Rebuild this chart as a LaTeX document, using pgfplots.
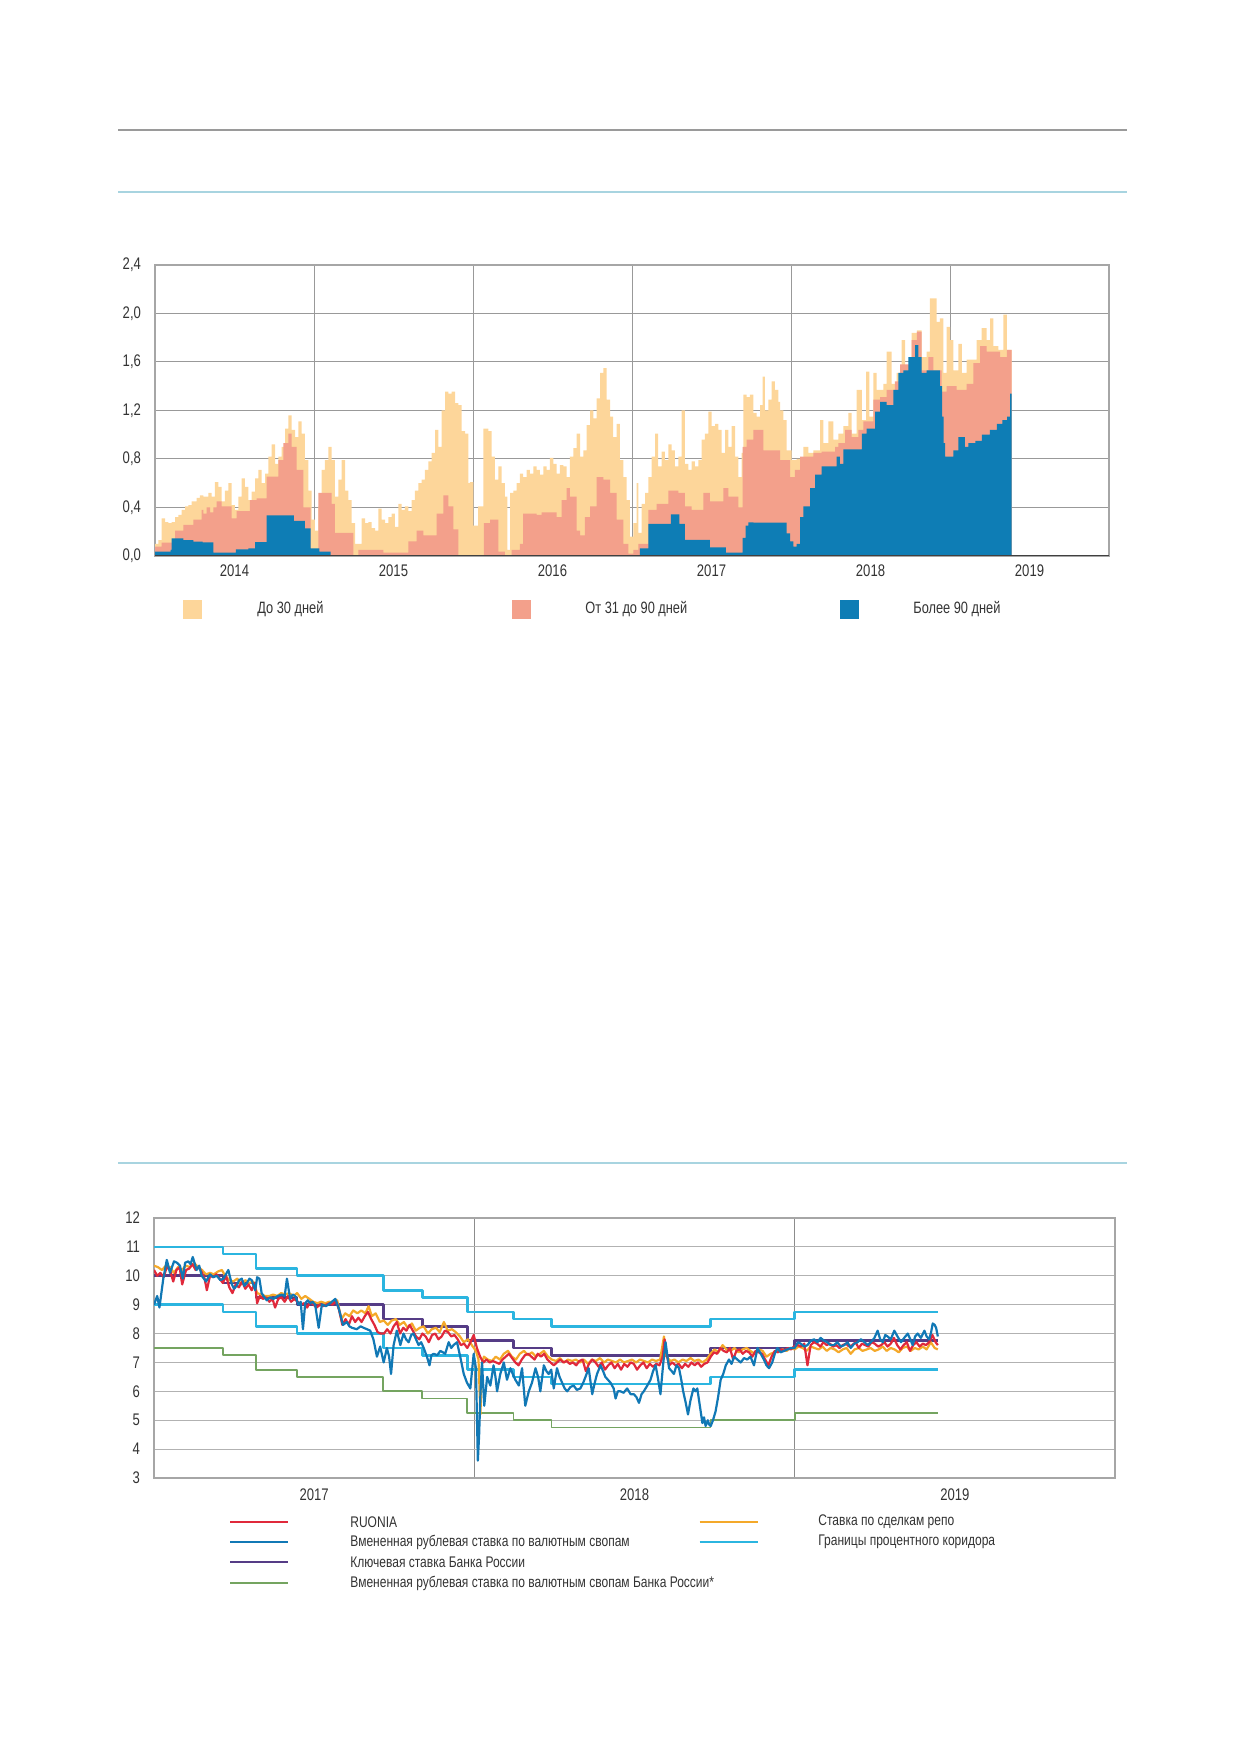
\documentclass[border=0pt]{standalone}
\usepackage{fontspec}
\setmainfont{Liberation Sans}[FakeStretch=0.78]
\usepackage{pgfplots}
\pgfplotsset{compat=1.18}
\definecolor{cLight}{HTML}{FDD69A}
\definecolor{cSalmon}{HTML}{F3A08B}
\definecolor{cBlue}{HTML}{0E7DB5}
\definecolor{cRed}{HTML}{E0293B}
\definecolor{cSwap}{HTML}{1178B5}
\definecolor{cPurple}{HTML}{553C86}
\definecolor{cGreen}{HTML}{74A460}
\definecolor{cOrange}{HTML}{F4A92A}
\definecolor{cCorr}{HTML}{2BB5E0}
\definecolor{cRule}{HTML}{9A9A9A}
\definecolor{cRuleB}{HTML}{A8D4E0}
\definecolor{cTxt}{HTML}{333333}
\begin{document}
\begin{tikzpicture}
\path[use as bounding box] (0,0) rectangle (619.5pt,876pt);
\draw[cRule, line width=1pt] (59pt,811pt) -- (563.5pt,811pt);
\draw[cRuleB, line width=0.9pt] (59pt,780pt) -- (563.5pt,780pt);
\draw[cRuleB, line width=0.9pt] (59pt,294.5pt) -- (563.5pt,294.5pt);

%% ---------------- TOP CHART ----------------
\begin{axis}[
 at={(77.5pt,743.5pt)}, anchor=north west,
 scale only axis, width=477pt, height=145.5pt,
 xmin=0, xmax=6, ymin=0, ymax=2.4,
 xtick={0.5,1.5,2.5,3.5,4.5,5.5},
 xticklabels={2014,2015,2016,2017,2018,2019},
 ytick={0,0.4,0.8,1.2,1.6,2.0,2.4},
 minor xtick={1,2,3,4,5},
 xminorgrids, ymajorgrids,
 major tick length=0, minor tick length=0,
 grid style={black!40, line width=0.5pt},
 minor grid style={black!40, line width=0.5pt},
 axis line style={black!35, line width=0.6pt},
 tick label style={font=\fontsize{8.4}{9}\selectfont, text=cTxt},
 /pgf/number format/assume math mode=true,
 yticklabel style={xshift=-3.5pt, /pgf/number format/.cd, fixed, fixed zerofill, precision=1, use comma},
 xticklabel style={yshift=-1pt},
]
\addplot[const plot, fill=cLight, draw=none] table {
0.000 0.10
0.021 0.13
0.042 0.31
0.063 0.28
0.084 0.27
0.105 0.28
0.126 0.32
0.147 0.34
0.168 0.38
0.189 0.41
0.210 0.42
0.231 0.45
0.262 0.48
0.283 0.50
0.304 0.49
0.335 0.52
0.356 0.49
0.377 0.61
0.398 0.57
0.419 0.45
0.440 0.54
0.461 0.60
0.482 0.42
0.503 0.38
0.524 0.49
0.545 0.64
0.566 0.57
0.587 0.46
0.608 0.53
0.629 0.64
0.650 0.71
0.671 0.60
0.692 0.68
0.713 0.82
0.734 0.92
0.755 0.76
0.776 0.82
0.797 0.90
0.818 1.05
0.839 1.16
0.860 1.04
0.881 0.98
0.901 1.11
0.922 1.01
0.943 0.79
0.964 0.54
0.985 0.30
1.006 0.21
1.027 0.41
1.048 0.71
1.069 0.79
1.090 0.90
1.111 0.79
1.132 0.49
1.153 0.63
1.174 0.79
1.195 0.54
1.216 0.46
1.237 0.27
1.258 0.10
1.279 0.10
1.300 0.31
1.321 0.27
1.342 0.28
1.363 0.23
1.384 0.21
1.405 0.39
1.426 0.30
1.447 0.27
1.468 0.32
1.488 0.35
1.509 0.24
1.530 0.43
1.551 0.38
1.572 0.41
1.593 0.37
1.614 0.46
1.635 0.54
1.656 0.60
1.677 0.63
1.698 0.71
1.719 0.78
1.740 0.85
1.761 1.04
1.782 0.90
1.803 1.20
1.824 1.355
1.845 1.34
1.866 1.355
1.887 1.26
1.908 1.245
1.929 1.03
1.950 1.01
1.971 0.60
1.981 0.61
2.002 0.25
2.033 0.41
2.065 1.05
2.096 1.03
2.117 0.82
2.138 0.63
2.159 0.74
2.180 0.60
2.201 0.49
2.216 0.05
2.233 0.52
2.254 0.54
2.275 0.60
2.295 0.68
2.316 0.65
2.337 0.71
2.358 0.68
2.379 0.74
2.400 0.71
2.421 0.67
2.442 0.74
2.463 0.71
2.484 0.81
2.505 0.76
2.526 0.68
2.547 0.75
2.568 0.74
2.589 0.65
2.610 0.82
2.631 0.89
2.652 1.01
2.673 0.82
2.694 0.87
2.715 1.08
2.736 1.20
2.757 1.135
2.778 1.30
2.799 1.51
2.820 1.55
2.841 1.29
2.862 1.15
2.882 0.98
2.903 1.09
2.924 0.79
2.945 0.65
2.966 0.46
2.987 0.16
3.008 0.27
3.029 0.60
3.040 0.19
3.061 0.43
3.082 0.52
3.103 0.65
3.124 0.82
3.145 1.01
3.165 0.74
3.186 0.86
3.207 0.79
3.228 0.92
3.249 0.87
3.270 0.74
3.291 0.82
3.312 1.20
3.333 0.76
3.354 0.71
3.375 0.78
3.396 0.74
3.417 0.79
3.438 0.96
3.459 1.01
3.480 1.19
3.501 1.07
3.522 1.09
3.543 1.04
3.564 0.85
3.585 1.04
3.606 0.90
3.627 1.07
3.648 0.82
3.669 0.65
3.690 0.85
3.700 1.33
3.721 1.31
3.742 1.33
3.763 1.18
3.784 1.15
3.805 1.245
3.822 1.48
3.836 1.20
3.857 1.29
3.878 1.44
3.899 1.37
3.920 1.27
3.931 1.20
3.952 1.12
3.973 0.87
4.004 0.79
4.036 0.80
4.078 0.90
4.109 0.85
4.141 0.87
4.183 1.12
4.204 0.93
4.235 1.11
4.266 0.96
4.298 1.01
4.329 1.07
4.361 1.18
4.382 1.01
4.413 1.37
4.445 1.12
4.472 1.52
4.493 1.15
4.518 1.51
4.539 1.37
4.581 1.42
4.602 1.685
4.633 1.42
4.665 1.51
4.696 1.78
4.717 1.56
4.759 1.84
4.791 1.86
4.822 1.64
4.853 1.685
4.874 2.125
4.916 1.93
4.937 1.96
4.958 1.51
4.979 1.89
5.000 1.78
5.021 1.53
5.053 1.75
5.074 1.51
5.105 1.62
5.137 1.62
5.168 1.78
5.199 1.88
5.231 1.78
5.252 1.96
5.273 1.73
5.304 1.70
5.336 1.99
5.357 1.70
5.388 1.70
} \closedcycle;
\addplot[const plot, fill=cSalmon, draw=none] table {
0.000 0.077
0.042 0.11
0.126 0.21
0.178 0.256
0.241 0.30
0.294 0.38
0.304 0.35
0.325 0.40
0.346 0.36
0.367 0.40
0.388 0.45
0.419 0.41
0.482 0.31
0.514 0.37
0.597 0.46
0.639 0.476
0.702 0.654
0.776 0.79
0.807 0.93
0.839 1.01
0.860 0.90
0.891 0.71
0.933 0.40
0.979 0.0
1.027 0.52
1.111 0.43
1.132 0.19
1.247 0.0
1.279 0.05
1.436 0.027
1.593 0.12
1.646 0.21
1.688 0.17
1.771 0.35
1.813 0.50
1.845 0.41
1.876 0.22
1.908 0.0
2.069 0.27
2.107 0.30
2.159 0.036
2.201 0.0
2.243 0.05
2.295 0.10
2.316 0.35
2.400 0.34
2.432 0.36
2.526 0.32
2.558 0.46
2.589 0.56
2.610 0.49
2.652 0.21
2.673 0.17
2.704 0.32
2.736 0.41
2.778 0.65
2.820 0.63
2.862 0.52
2.903 0.30
2.945 0.10
2.977 0.02
3.008 0.05
3.040 0.10
3.103 0.38
3.155 0.43
3.228 0.54
3.291 0.52
3.333 0.41
3.375 0.38
3.449 0.52
3.490 0.45
3.574 0.56
3.606 0.49
3.669 0.40
3.696 0.90
3.721 0.96
3.763 1.04
3.826 0.87
3.931 0.79
3.994 0.65
4.025 0.71
4.057 0.82
4.141 0.85
4.193 0.86
4.277 0.90
4.298 0.93
4.340 1.04
4.382 0.98
4.424 1.04
4.455 1.11
4.518 1.29
4.560 1.31
4.602 1.37
4.654 1.44
4.686 1.58
4.759 1.78
4.791 1.85
4.822 1.53
4.864 1.64
4.895 1.53
4.948 1.355
4.979 1.40
5.042 1.37
5.105 1.42
5.147 1.59
5.189 1.73
5.231 1.685
5.315 1.64
5.357 1.70
5.388 1.70
} \closedcycle;
\addplot[const plot, fill=cBlue, draw=none] table {
0.000 0.036
0.0985 0.05
0.105 0.146
0.178 0.13
0.241 0.118
0.300 0.113
0.367 0.027
0.509 0.055
0.587 0.063
0.629 0.115
0.702 0.335
0.874 0.289
0.943 0.228
0.979 0.063
1.034 0.036
1.105 0.0
3.050 0.063
3.103 0.264
3.245 0.344
3.298 0.264
3.333 0.132
3.490 0.071
3.591 0.027
3.696 0.15
3.715 0.25
3.732 0.278
3.763 0.275
3.973 0.187
3.994 0.12
4.015 0.077
4.036 0.10
4.057 0.32
4.078 0.41
4.120 0.56
4.151 0.67
4.193 0.74
4.287 0.82
4.308 0.76
4.329 0.88
4.445 1.01
4.476 1.05
4.529 1.19
4.560 1.27
4.602 1.245
4.644 1.37
4.675 1.51
4.707 1.53
4.738 1.64
4.780 1.74
4.801 1.64
4.822 1.51
4.853 1.53
4.937 1.40
4.950 1.15
4.960 0.93
4.969 0.82
5.021 0.87
5.053 0.98
5.094 0.90
5.115 0.93
5.160 0.95
5.200 1.00
5.250 1.04
5.294 1.09
5.330 1.12
5.360 1.15
5.378 1.34
5.388 1.34
} \closedcycle;
\draw[black!75, line width=0.8pt] (axis cs:0,0) -- (axis cs:6,0);
\end{axis}

% top legend
\begin{scope}[font=\fontsize{8.2}{9}\selectfont, text=cTxt]
\fill[cLight] (91.5pt,566.5pt) rectangle (101pt,576pt);
\node[anchor=west, inner sep=0pt] at (128.5pt,571.25pt) {До 30 дней};
\fill[cSalmon] (256pt,566.5pt) rectangle (265.5pt,576pt);
\node[anchor=west, inner sep=0pt] at (292.5pt,571.25pt) {От 31 до 90 дней};
\fill[cBlue] (420pt,566.5pt) rectangle (429.5pt,576pt);
\node[anchor=west, inner sep=0pt] at (456.5pt,571.25pt) {Более 90 дней};
\end{scope}

%% ---------------- BOTTOM CHART ----------------
\begin{axis}[
 at={(77pt,267pt)}, anchor=north west,
 scale only axis, width=480.5pt, height=130pt,
 xmin=2017, xmax=2020, ymin=3, ymax=12,
 xtick={2017.5,2018.5,2019.5},
 xticklabels={2017,2018,2019},
 ytick={3,4,5,6,7,8,9,10,11,12},
 minor xtick={2018,2019},
 xminorgrids, ymajorgrids,
 major tick length=0, minor tick length=0,
 grid style={black!30, line width=0.5pt},
 minor grid style={black!45, line width=0.5pt},
 axis line style={black!35, line width=0.6pt},
 tick label style={font=\fontsize{8.4}{9}\selectfont, text=cTxt},
 /pgf/number format/assume math mode=true,
 yticklabel style={xshift=-3.5pt},
 xticklabel style={yshift=-2pt},
 every axis plot/.append style={line join=round},
]
% corridor upper
\addplot[const plot, cCorr, line width=1.3pt] coordinates {
(2017.0,11.0) (2017.216,10.75) (2017.319,10.25) (2017.447,10.0) (2017.716,9.5) (2017.8375,9.25) (2017.978,8.75) (2018.122,8.5) (2018.241,8.25) (2018.7375,8.5) (2019.0,8.75) (2019.447,8.75)};
% corridor lower
\addplot[const plot, cCorr, line width=1.3pt] coordinates {
(2017.0,9.0) (2017.216,8.75) (2017.319,8.25) (2017.447,8.0) (2017.716,7.5) (2017.8375,7.25) (2017.978,6.75) (2018.122,6.5) (2018.241,6.25) (2018.7375,6.5) (2019.0,6.75) (2019.447,6.75)};
% green
\addplot[const plot, cGreen, line width=0.9pt] coordinates {
(2017.0,7.5) (2017.216,7.25) (2017.319,6.75) (2017.447,6.5) (2017.716,6.0) (2017.8375,5.75) (2017.978,5.25) (2018.122,5.0) (2018.241,4.75) (2018.7375,5.0) (2019.0,5.25) (2019.447,5.25)};
% key rate
\addplot[const plot, cPurple, line width=1.3pt] coordinates {
(2017.0,10.0) (2017.216,9.75) (2017.319,9.25) (2017.447,9.0) (2017.716,8.5) (2017.8375,8.25) (2017.978,7.75) (2018.122,7.5) (2018.241,7.25) (2018.7375,7.5) (2019.0,7.75) (2019.447,7.75)};
% repo
\addplot[cOrange, line width=1.1pt] table {
2017.000 10.35
2017.012 10.30
2017.025 10.20
2017.037 10.35
2017.050 10.30
2017.062 10.10
2017.075 10.30
2017.087 10.20
2017.100 10.35
2017.112 10.30
2017.125 10.45
2017.137 10.30
2017.150 10.20
2017.162 10.05
2017.175 10.10
2017.187 10.05
2017.200 10.15
2017.212 10.20
2017.222 10.00
2017.235 9.85
2017.247 9.80
2017.260 9.90
2017.272 9.70
2017.285 9.85
2017.297 9.75
2017.310 9.80
2017.322 9.40
2017.335 9.35
2017.347 9.30
2017.360 9.30
2017.372 9.35
2017.385 9.30
2017.397 9.40
2017.410 9.35
2017.422 9.40
2017.435 9.30
2017.447 9.40
2017.460 9.20
2017.472 9.30
2017.485 9.20
2017.497 9.10
2017.510 9.05
2017.522 9.10
2017.535 9.05
2017.547 9.10
2017.560 9.05
2017.572 9.15
2017.585 8.50
2017.597 8.70
2017.610 8.60
2017.622 8.80
2017.635 8.70
2017.647 8.80
2017.660 8.70
2017.670 8.95
2017.680 8.60
2017.692 8.70
2017.705 8.40
2017.717 8.45
2017.730 8.30
2017.742 8.45
2017.755 8.50
2017.767 8.30
2017.780 8.40
2017.792 8.20
2017.805 8.35
2017.817 8.10
2017.830 8.20
2017.842 8.25
2017.855 8.00
2017.867 8.15
2017.880 8.20
2017.892 8.05
2017.905 8.40
2017.917 8.10
2017.930 8.15
2017.942 8.05
2017.955 7.90
2017.967 7.70
2017.980 7.80
2017.992 7.60
2018.005 7.40
2018.013 7.10
2018.019 5.20
2018.024 7.00
2018.030 7.20
2018.042 7.10
2018.055 7.05
2018.067 7.20
2018.080 7.10
2018.092 7.30
2018.105 7.40
2018.117 7.20
2018.130 7.10
2018.142 7.30
2018.155 7.40
2018.167 7.25
2018.180 7.35
2018.192 7.20
2018.205 7.30
2018.217 7.40
2018.230 7.20
2018.242 7.10
2018.255 7.05
2018.267 7.15
2018.280 7.00
2018.292 7.10
2018.305 7.05
2018.317 7.10
2018.330 7.00
2018.342 7.10
2018.355 6.95
2018.367 7.10
2018.380 7.05
2018.392 7.15
2018.405 7.00
2018.417 7.10
2018.430 7.05
2018.442 7.00
2018.455 7.10
2018.467 7.00
2018.480 7.05
2018.492 7.10
2018.505 7.00
2018.517 7.10
2018.530 7.05
2018.542 7.00
2018.555 7.10
2018.567 7.05
2018.580 7.10
2018.592 7.90
2018.600 7.20
2018.612 7.05
2018.625 7.10
2018.637 7.00
2018.650 7.10
2018.662 7.05
2018.675 7.15
2018.687 7.05
2018.700 7.10
2018.712 7.00
2018.725 7.10
2018.737 7.30
2018.750 7.45
2018.762 7.35
2018.775 7.60
2018.787 7.45
2018.800 7.40
2018.812 7.50
2018.825 7.35
2018.837 7.45
2018.850 7.50
2018.862 7.40
2018.875 7.30
2018.887 7.45
2018.900 7.40
2018.912 7.20
2018.925 7.30
2018.937 7.35
2018.950 7.40
2018.962 7.45
2018.975 7.40
2018.987 7.50
2019.000 7.45
2019.012 7.55
2019.025 7.50
2019.037 7.40
2019.050 7.55
2019.062 7.50
2019.075 7.45
2019.087 7.55
2019.100 7.40
2019.112 7.50
2019.125 7.45
2019.137 7.35
2019.150 7.45
2019.162 7.50
2019.175 7.30
2019.187 7.45
2019.200 7.50
2019.212 7.40
2019.225 7.45
2019.237 7.50
2019.250 7.40
2019.262 7.45
2019.275 7.55
2019.287 7.40
2019.300 7.50
2019.312 7.45
2019.325 7.35
2019.337 7.50
2019.350 7.55
2019.362 7.40
2019.375 7.50
2019.387 7.45
2019.400 7.55
2019.412 7.45
2019.425 7.70
2019.437 7.50
2019.447 7.45
};
% RUONIA
\addplot[cRed, line width=1.1pt] table {
2017.000 10.20
2017.010 10.00
2017.020 10.10
2017.030 9.95
2017.040 10.30
2017.050 10.20
2017.060 9.80
2017.070 10.20
2017.080 10.30
2017.088 9.70
2017.100 10.20
2017.110 10.25
2017.120 10.40
2017.130 10.20
2017.140 10.30
2017.150 10.10
2017.158 9.90
2017.165 9.50
2017.175 10.00
2017.185 9.95
2017.195 10.05
2017.205 9.90
2017.215 9.75
2017.225 10.00
2017.235 9.60
2017.245 9.40
2017.255 9.70
2017.265 9.60
2017.275 9.80
2017.285 9.55
2017.295 9.70
2017.305 9.50
2017.315 9.75
2017.322 9.05
2017.330 9.30
2017.340 9.20
2017.350 9.25
2017.360 9.10
2017.370 9.20
2017.378 8.90
2017.388 9.20
2017.398 9.25
2017.408 9.10
2017.418 9.30
2017.428 9.10
2017.438 9.20
2017.448 9.10
2017.458 9.00
2017.468 9.05
2017.478 8.90
2017.488 9.10
2017.498 9.00
2017.508 8.90
2017.518 9.00
2017.528 8.95
2017.538 9.00
2017.548 9.05
2017.558 9.00
2017.568 9.15
2017.578 8.80
2017.588 8.30
2017.598 8.50
2017.608 8.30
2017.618 8.60
2017.628 8.40
2017.638 8.55
2017.648 8.40
2017.658 8.60
2017.668 8.75
2017.678 8.50
2017.688 8.30
2017.698 8.05
2017.708 8.00
2017.718 8.00
2017.728 8.15
2017.738 8.00
2017.748 8.25
2017.758 8.40
2017.768 8.00
2017.778 8.20
2017.788 8.10
2017.798 8.30
2017.808 8.10
2017.818 7.90
2017.828 7.80
2017.838 8.00
2017.848 7.90
2017.858 7.70
2017.868 7.95
2017.878 8.00
2017.888 7.80
2017.898 7.90
2017.908 8.10
2017.918 8.05
2017.928 7.90
2017.938 7.95
2017.948 7.80
2017.958 7.60
2017.968 7.65
2017.978 7.50
2017.988 7.70
2017.998 7.95
2018.008 7.50
2018.018 7.20
2018.028 7.00
2018.038 7.10
2018.048 7.00
2018.058 7.05
2018.068 7.00
2018.078 6.95
2018.088 7.10
2018.098 7.20
2018.108 7.30
2018.118 7.15
2018.128 7.00
2018.138 6.90
2018.148 7.10
2018.158 7.25
2018.168 7.30
2018.178 7.20
2018.188 7.10
2018.198 7.30
2018.208 7.20
2018.218 7.30
2018.228 7.10
2018.238 7.00
2018.248 6.90
2018.258 7.00
2018.268 7.10
2018.278 7.00
2018.288 7.05
2018.298 6.95
2018.308 7.00
2018.318 6.90
2018.328 7.05
2018.338 7.10
2018.348 6.70
2018.358 6.95
2018.368 7.10
2018.378 7.00
2018.388 6.85
2018.398 7.00
2018.408 6.75
2018.418 6.90
2018.428 7.00
2018.438 6.80
2018.448 6.95
2018.458 6.75
2018.468 6.95
2018.478 6.85
2018.488 7.00
2018.498 6.95
2018.508 6.75
2018.518 6.90
2018.528 7.00
2018.538 6.80
2018.548 6.95
2018.558 6.85
2018.568 6.95
2018.578 6.90
2018.588 7.20
2018.594 7.80
2018.600 7.30
2018.608 6.90
2018.618 7.00
2018.628 6.90
2018.638 6.95
2018.648 6.80
2018.658 6.95
2018.668 6.85
2018.678 7.00
2018.688 6.90
2018.698 7.00
2018.708 6.85
2018.718 6.95
2018.728 7.00
2018.738 7.20
2018.748 7.35
2018.758 7.30
2018.768 7.50
2018.778 7.40
2018.788 7.35
2018.798 7.50
2018.808 7.10
2018.818 7.40
2018.828 7.45
2018.838 7.30
2018.848 7.40
2018.858 7.35
2018.868 7.20
2018.878 7.40
2018.888 7.35
2018.898 7.30
2018.908 7.10
2018.918 6.90
2018.928 7.20
2018.938 7.40
2018.948 7.35
2018.958 7.45
2018.968 7.40
2018.978 7.50
2018.988 7.45
2018.998 7.55
2019.010 7.60
2019.020 7.55
2019.030 7.65
2019.040 6.90
2019.050 7.60
2019.060 7.70
2019.070 7.65
2019.080 7.55
2019.090 7.70
2019.100 7.60
2019.110 7.65
2019.120 7.55
2019.130 7.60
2019.140 7.50
2019.150 7.60
2019.160 7.65
2019.170 7.55
2019.180 7.60
2019.190 7.70
2019.200 7.50
2019.210 7.65
2019.220 7.60
2019.230 7.55
2019.240 7.70
2019.250 7.65
2019.260 7.55
2019.270 7.60
2019.280 7.70
2019.290 7.55
2019.300 7.65
2019.310 7.85
2019.320 7.60
2019.330 7.45
2019.340 7.60
2019.350 7.70
2019.360 7.40
2019.370 7.60
2019.380 7.70
2019.390 7.55
2019.400 7.65
2019.410 7.60
2019.420 7.70
2019.430 7.95
2019.440 7.70
2019.447 7.60
};
% swap implied rate
\addplot[cSwap, line width=1.1pt] table {
2017.000 9.00
2017.010 9.30
2017.017 8.90
2017.029 9.90
2017.040 10.55
2017.050 10.10
2017.0625 10.50
2017.072 10.45
2017.081 10.35
2017.090 9.90
2017.097 10.45
2017.107 10.50
2017.114 10.40
2017.121 10.65
2017.133 10.20
2017.141 10.35
2017.149 10.00
2017.1625 9.80
2017.175 10.05
2017.185 9.95
2017.196 10.00
2017.207 9.85
2017.217 9.90
2017.232 10.20
2017.243 9.70
2017.250 9.55
2017.258 9.65
2017.266 9.85
2017.274 9.90
2017.282 9.65
2017.290 9.75
2017.298 9.90
2017.305 9.85
2017.316 9.50
2017.322 9.95
2017.329 9.90
2017.336 9.40
2017.342 9.30
2017.352 9.15
2017.362 9.25
2017.373 9.20
2017.386 9.30
2017.399 9.35
2017.408 9.30
2017.415 9.90
2017.425 9.20
2017.433 9.35
2017.441 9.30
2017.451 9.00
2017.458 9.10
2017.465 8.15
2017.472 9.05
2017.480 9.15
2017.4875 9.05
2017.495 9.10
2017.503 9.00
2017.514 8.20
2017.524 9.00
2017.537 8.95
2017.550 9.05
2017.566 9.20
2017.576 8.90
2017.583 8.60
2017.590 8.30
2017.602 8.40
2017.610 8.25
2017.618 8.20
2017.633 8.15
2017.645 8.25
2017.654 8.20
2017.665 8.15
2017.675 8.10
2017.685 7.80
2017.696 7.20
2017.706 7.55
2017.717 7.00
2017.727 7.50
2017.734 7.20
2017.740 6.60
2017.748 7.60
2017.758 8.10
2017.769 7.60
2017.779 8.00
2017.787 7.80
2017.795 7.70
2017.803 7.95
2017.810 8.00
2017.818 7.80
2017.826 7.60
2017.834 7.70
2017.842 7.50
2017.852 7.20
2017.860 6.90
2017.866 7.25
2017.873 7.30
2017.884 7.25
2017.894 7.40
2017.902 7.35
2017.909 7.30
2017.920 7.70
2017.928 7.50
2017.935 7.60
2017.946 7.70
2017.956 7.20
2017.967 6.60
2017.977 6.30
2017.9875 6.10
2017.998 7.30
2018.005 6.80
2018.011 3.60
2018.015 4.50
2018.019 5.90
2018.024 7.00
2018.031 5.50
2018.040 6.50
2018.050 6.20
2018.060 6.90
2018.066 6.50
2018.071 6.00
2018.081 6.60
2018.092 7.00
2018.102 6.40
2018.1125 6.80
2018.120 6.60
2018.128 6.40
2018.139 6.20
2018.149 6.80
2018.159 5.50
2018.170 6.00
2018.180 6.30
2018.191 6.80
2018.199 6.50
2018.206 6.00
2018.217 6.90
2018.225 6.70
2018.232 6.60
2018.240 6.75
2018.248 6.10
2018.258 6.80
2018.266 6.50
2018.274 6.30
2018.282 6.10
2018.290 6.00
2018.300 6.15
2018.310 6.20
2018.320 6.05
2018.331 6.10
2018.340 6.30
2018.347 6.50
2018.357 6.80
2018.368 5.90
2018.376 6.30
2018.383 6.60
2018.394 6.90
2018.402 6.70
2018.409 6.50
2018.417 6.40
2018.425 6.30
2018.435 6.10
2018.441 5.75
2018.448 6.00
2018.456 6.00
2018.466 5.95
2018.477 6.10
2018.488 5.90
2018.498 5.90
2018.506 5.80
2018.514 5.60
2018.522 5.90
2018.529 6.00
2018.540 6.20
2018.550 6.40
2018.558 6.70
2018.566 6.90
2018.574 6.40
2018.581 5.90
2018.590 7.00
2018.597 7.70
2018.603 7.20
2018.608 6.80
2018.616 6.70
2018.623 6.60
2018.631 6.90
2018.639 6.80
2018.646 6.40
2018.652 6.00
2018.660 5.60
2018.667 5.20
2018.675 5.70
2018.684 6.10
2018.690 6.00
2018.696 6.10
2018.704 5.50
2018.712 4.90
2018.717 5.10
2018.722 4.80
2018.729 5.00
2018.733 4.85
2018.738 4.80
2018.745 5.00
2018.753 5.30
2018.761 5.80
2018.769 6.40
2018.777 6.60
2018.785 6.90
2018.795 7.10
2018.803 6.95
2018.811 7.20
2018.821 7.10
2018.8315 7.00
2018.842 7.15
2018.852 7.10
2018.862 7.20
2018.873 6.90
2018.884 7.50
2018.894 7.30
2018.904 7.10
2018.912 6.90
2018.920 6.80
2018.930 7.00
2018.938 7.30
2018.946 7.50
2018.956 7.35
2018.967 7.40
2018.977 7.45
2018.988 7.50
2019.000 7.50
2019.010 7.70
2019.019 7.65
2019.030 7.55
2019.040 7.60
2019.050 7.75
2019.061 7.80
2019.071 7.70
2019.081 7.85
2019.092 7.75
2019.102 7.70
2019.112 7.60
2019.123 7.60
2019.133 7.70
2019.144 7.55
2019.155 7.60
2019.165 7.70
2019.175 7.50
2019.186 7.65
2019.196 7.70
2019.207 7.80
2019.218 7.70
2019.228 7.60
2019.238 7.70
2019.249 7.85
2019.259 8.10
2019.267 7.80
2019.275 7.70
2019.283 7.95
2019.290 7.90
2019.300 7.80
2019.311 8.10
2019.321 7.90
2019.332 7.70
2019.342 7.85
2019.353 8.00
2019.361 7.80
2019.3685 7.60
2019.376 7.90
2019.384 8.00
2019.394 7.85
2019.405 8.10
2019.412 7.90
2019.420 7.80
2019.426 8.05
2019.431 8.35
2019.437 8.30
2019.4415 8.20
2019.447 7.90
};
\end{axis}

% bottom legend
\begin{scope}[font=\fontsize{7.7}{9}\selectfont, text=cTxt]
\draw[cRed, line width=1.1pt] (115pt,115pt) -- (144pt,115pt);
\node[anchor=west, inner sep=0pt] at (175pt,115pt) {RUONIA};
\draw[cSwap, line width=1.1pt] (115pt,105pt) -- (144pt,105pt);
\node[anchor=west, inner sep=0pt] at (175pt,105pt) {Вмененная рублевая ставка по валютным свопам};
\draw[cPurple, line width=1.1pt] (115pt,95pt) -- (144pt,95pt);
\node[anchor=west, inner sep=0pt] at (175pt,95pt) {Ключевая ставка Банка России};
\draw[cGreen, line width=0.9pt] (115pt,84.5pt) -- (144pt,84.5pt);
\node[anchor=west, inner sep=0pt] at (175pt,84.5pt) {Вмененная рублевая ставка по валютным свопам Банка России*};
\draw[cOrange, line width=1.1pt] (349.75pt,115pt) -- (379pt,115pt);
\node[anchor=west, inner sep=0pt] at (409pt,115pt) {Ставка по сделкам репо};
\draw[cCorr, line width=1.1pt] (349.75pt,105pt) -- (379pt,105pt);
\node[anchor=west, inner sep=0pt] at (409pt,105pt) {Границы процентного коридора};
\end{scope}
\end{tikzpicture}
\end{document}
